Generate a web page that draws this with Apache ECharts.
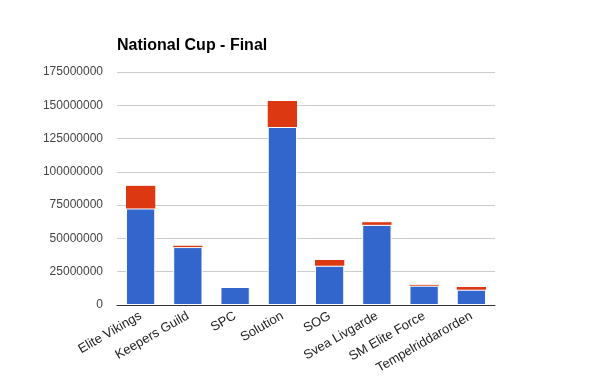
<!DOCTYPE html>
<html>
<head>
<meta charset="utf-8">
<script src="https://cdn.jsdelivr.net/npm/echarts@6/dist/echarts.min.js"></script>
<style>
  html, body { margin: 0; padding: 0; background: #fff; }
  #chart { width: 613px; height: 378px; }
</style>
</head>
<body>
<div id="chart"></div>
<script>
// teams on the x axis
const teams = ['Elite Vikings', 'Keepers Guild', 'SPC', 'Solution', 'SOG', 'Svea Livgarde', 'SM Elite Force', 'Tempelriddarorden'];
// lower (blue) and upper (red) stacked parts
const baseValues = [72500000, 43500000, 13500000, 133700000, 29500000, 60200000, 14500000, 11500000];
const extraValues = [17000000, 1000000, 0, 19500000, 4300000, 2000000, 600000, 2000000];
const yTicks = [0, 25000000, 50000000, 75000000, 100000000, 125000000, 150000000, 175000000];

const chart = echarts.init(document.getElementById('chart'));
const font = 'Arial, "Liberation Sans", sans-serif';

chart.setOption({
    animation: false,
    textStyle: { fontFamily: font },
    title: {
        text: 'National Cup - Final',
        left: 112,
        top: 33,
        textStyle: { fontFamily: font, fontSize: 16, fontWeight: 'bold', color: '#000' },
    },
    grid: { left: 117, right: 118, top: 72, bottom: 73 },
    xAxis: {
        type: 'category',
        data: teams,
        axisLine: { lineStyle: { color: '#333', width: 1 } },
        axisTick: { show: false },
        axisLabel: { rotate: 30, interval: 0, fontSize: 13, color: '#222', margin: 10 },
    },
    yAxis: {
        type: 'value',
        min: yTicks[0],
        max: yTicks[yTicks.length - 1],
        interval: 25000000,
        axisLine: { show: false },
        axisTick: { show: false },
        splitLine: { lineStyle: { color: '#ccc' } },
        axisLabel: { fontSize: 12, color: '#444', margin: 14, formatter: v => String(v) },
    },
    series: [
        {
            type: 'bar',
            stack: 'total',
            data: baseValues,
            barCategoryGap: '38%',
            itemStyle: { color: '#3366cc', borderColor: '#fff', borderWidth: 1 },
        },
        {
            type: 'bar',
            stack: 'total',
            data: extraValues,
            itemStyle: { color: '#dc3912' },
        },
    ],
});
</script>
</body>
</html>
